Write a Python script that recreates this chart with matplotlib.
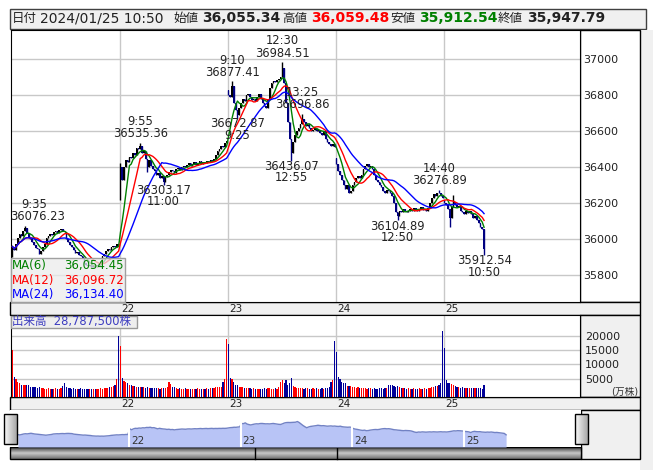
import numpy as np
import pandas as pd
import matplotlib
matplotlib.use('Agg')
import matplotlib.pyplot as plt
from matplotlib.patches import Rectangle
from matplotlib.colors import LinearSegmentedColormap

plt.rcParams['font.family'] = ['DejaVu Sans', 'Noto Sans CJK JP']

W, H = 653, 470

# 5 minute bars, 60 a day (9:00-11:25, 12:30-14:55)
day_labels = ['19', '22', '23', '24', '25']
day_open = [35910, 36220, 36830, 36450, 36220]

close_19 = [35960, 35940, 35975, 36010, 36030, 36020, 36045, 36065, 36035, 36010,
            36000, 35985, 35970, 35950, 35945, 35920, 35935, 35955, 35975, 36010,
            36020, 36030, 36025, 36040, 36045, 36035, 36050, 36055, 36045, 36040,
            36000, 35985, 35970, 35955, 35940, 35925, 35930, 35915, 35905, 35895,
            35870, 35860, 35850, 35855, 35845, 35850, 35845, 35855, 35865, 35880,
            35905, 35920, 35935, 35945, 35940, 35955, 35965, 35960, 35975, 35970]
close_22 = [36400, 36330, 36400, 36440, 36430, 36460, 36450, 36480, 36470, 36505,
            36500, 36520, 36480, 36490, 36445, 36400, 36440, 36410, 36390, 36380,
            36355, 36370, 36340, 36350, 36320, 36345, 36360, 36375, 36385, 36380,
            36370, 36390, 36395, 36385, 36400, 36410, 36400, 36415, 36425, 36410,
            36420, 36430, 36415, 36425, 36435, 36420, 36430, 36425, 36435, 36430,
            36440, 36435, 36445, 36470, 36490, 36500, 36520, 36515, 36535, 36545]
close_23 = [36800, 36790, 36850, 36760, 36720, 36690, 36730, 36760, 36780, 36770,
            36800, 36805, 36790, 36775, 36780, 36770, 36790, 36805, 36780, 36760,
            36740, 36730, 36780, 36840, 36870, 36880, 36875, 36885, 36890, 36900,
            36950, 36870, 36760, 36650, 36560, 36480, 36540, 36580, 36600, 36620,
            36640, 36670, 36650, 36630, 36640, 36620, 36600, 36610, 36620, 36600,
            36610, 36590, 36580, 36600, 36560, 36540, 36530, 36520, 36530, 36515]
close_24 = [36420, 36380, 36360, 36330, 36300, 36280, 36300, 36260, 36270, 36300,
            36320, 36340, 36350, 36340, 36360, 36390, 36410, 36420, 36400, 36410,
            36390, 36360, 36330, 36320, 36300, 36290, 36270, 36260, 36275, 36270,
            36260, 36240, 36200, 36150, 36130, 36160, 36150, 36170, 36160, 36150,
            36160, 36170, 36160, 36175, 36165, 36160, 36170, 36180, 36165, 36170,
            36160, 36175, 36200, 36230, 36250, 36240, 36260, 36255, 36240, 36230]
close_25 = [36200, 36190, 36170, 36120, 36180, 36210, 36190, 36180, 36185, 36160,
            36150, 36140, 36155, 36145, 36160, 36140, 36120, 36130, 36110, 36090,
            36070, 36055.34, 35947.79]

# volume in 10,000 shares
vol_19 = [15000, 5600, 4700, 3800, 3500, 2900, 2900, 2900, 2800, 2600,
          2100, 2000, 2100, 1900, 1800, 1900, 1700, 1600, 1500, 1500,
          1600, 1400, 1500, 1500, 1600, 1400, 1500, 1700, 2300, 3400,
          2200, 1800, 1600, 1500, 1700, 1400, 1500, 1400, 1600, 1300,
          1400, 1500, 1300, 1400, 1500, 1300, 1400, 1500, 1400, 1600,
          1500, 1700, 1600, 1800, 1900, 2100, 2400, 2900, 4800, 20100]
vol_22 = [16500, 5250, 4200, 3800, 3500, 2700, 2600, 2400, 2300, 2200,
          2100, 2000, 2100, 1900, 1800, 2000, 1800, 1700, 1800, 1600,
          1700, 1600, 1500, 1600, 1800, 1700, 1900, 3800, 3100, 2000,
          1900, 1600, 1500, 1700, 1500, 1400, 1600, 1500, 1400, 1500,
          1300, 1500, 1400, 1600, 1400, 1500, 1300, 1400, 1600, 1500,
          1700, 1600, 1800, 1900, 2100, 2000, 2200, 3800, 4700, 19000]
vol_23 = [17200, 5250, 4900, 3800, 2900, 2700, 2100, 1900, 2000, 1800,
          1700, 1600, 1800, 1500, 1600, 1400, 1500, 1300, 1500, 1400,
          1600, 1500, 1700, 1600, 1500, 1400, 1600, 1500, 1900, 3800,
          4400, 3500, 4400, 2600, 3500, 5250, 2400, 2000, 1800, 1700,
          1600, 1800, 1500, 1700, 1600, 1500, 1400, 1600, 1500, 1700,
          1500, 1400, 1600, 1500, 1700, 1800, 2100, 3800, 4400, 18250]
vol_24 = [14470, 5600, 5000, 3800, 3500, 3500, 2400, 2400, 2300, 2200,
          1900, 1800, 2000, 1700, 1800, 1600, 1700, 1500, 1600, 1700,
          1500, 1600, 1400, 1500, 1700, 1600, 1500, 1600, 1800, 2900,
          2600, 2800, 2500, 2000, 2300, 1900, 1800, 1700, 1600, 1500,
          1600, 1400, 1500, 1600, 1400, 1500, 1600, 1500, 1400, 1600,
          1500, 1700, 1800, 2000, 2200, 2300, 2500, 2900, 3300, 21900]
vol_25 = [15900, 4660, 3300, 3300, 3000, 2700, 2300, 2000, 1900, 1800,
          1900, 1700, 1800, 1600, 1700, 1700, 1600, 1700, 1600, 1700,
          1600, 1500, 2879]

# wicks that reach past the body (bar index -> price)
wick_high = {7: 36076.23, 60: 36425, 71: 36535.36, 122: 36877.41, 150: 36984.51,
             161: 36696.86, 237: 36276.89, 245: 36246, 262: 36059.48}
wick_low = {0: 35904, 75: 36375, 84: 36303.17, 125: 36672.87, 155: 36436.07,
            214: 36104.89, 243: 36070, 262: 35912.54}

# swing labels: bar index, price, time, high/low
swings = [(7, 36076.23, '9:35', 'H'), (71, 36535.36, '9:55', 'H'),
          (84, 36303.17, '11:00', 'L'), (122, 36877.41, '9:10', 'H'),
          (125, 36672.87, '9:25', 'L'), (150, 36984.51, '12:30', 'H'),
          (155, 36436.07, '12:55', 'L'), (161, 36696.86, '13:25', 'H'),
          (214, 36104.89, '12:50', 'L'), (237, 36276.89, '14:40', 'H'),
          (262, 35912.54, '10:50', 'L')]

header_date = '2024/01/25 10:50'
header_items = [('始値', '36,055.34', '#222222'), ('高値', '36,059.48', '#ff0000'),
                ('安値', '35,912.54', '#008000'), ('終値', '35,947.79', '#222222')]
ma_periods = [6, 12, 24]
ma_colors = ['#008000', '#ff0000', '#0000ff']
ma_values = ['36,054.45', '36,096.72', '36,134.40']
vol_title = '出来高  28,787,500株'
price_ticks = [35800, 36000, 36200, 36400, 36600, 36800, 37000]
vol_ticks = [5000, 10000, 15000, 20000]

# ---- build bars ----
closes_by_day = [close_19, close_22, close_23, close_24, close_25]
closes, opens = [], []
for d, cl in enumerate(closes_by_day):
    for j, c in enumerate(cl):
        opens.append(day_open[d] if j == 0 else cl[j - 1])
        closes.append(c)
closes = np.array(closes, dtype=float)
opens = np.array(opens, dtype=float)
vols = np.array(vol_19 + vol_22 + vol_23 + vol_24 + vol_25, dtype=float)
idx = np.arange(len(closes))
highs = np.maximum(opens, closes)
lows = np.minimum(opens, closes)
for k, v in wick_high.items():
    highs[k] = v
for k, v in wick_low.items():
    lows[k] = v
up = closes >= opens

fig = plt.figure(figsize=(W / 100, H / 100), dpi=100)
fig.patch.set_facecolor('white')


def px_axes(x0, y0, x1, y1, z=5):
    return fig.add_axes([x0 / W, 1 - y1 / H, (x1 - x0) / W, (y1 - y0) / H], zorder=z)


bg = fig.add_axes([0, 0, 1, 1], zorder=0)
bg.set_xlim(0, W)
bg.set_ylim(H, 0)
bg.axis('off')

# header
bg.add_patch(Rectangle((9.5, 8.5), 636, 20, fc='#f0f0f0', ec='#404040', lw=1))
bg.text(12, 18.5, '日付', fontsize=9, va='center', color='#222222')
bg.text(40, 18.5, header_date, fontsize=10, va='center', color='#222222')
hx = [173, 282, 390, 498]
for (lab, val, col), x in zip(header_items, hx):
    bg.text(x, 18.5, lab, fontsize=9, va='center', color='#222222')
    bg.text(x + 29, 18.5, val, fontsize=10, fontweight='bold', va='center', color=col)

# frames and grey strips
bg.add_patch(Rectangle((640, 30), 13, 440, fc='#f0f0f0', ec='none'))
bg.add_patch(Rectangle((580, 30), 60, 272, fc='white', ec='black', lw=1))
bg.add_patch(Rectangle((10, 302), 630, 13, fc='#f0f0f0', ec='black', lw=1))
bg.add_patch(Rectangle((580, 315), 60, 82, fc='#f0f0f0', ec='black', lw=1))
bg.add_patch(Rectangle((10, 397), 630, 13, fc='#f0f0f0', ec='black', lw=1))
bg.add_patch(Rectangle((581, 410), 59, 49, fc='#f0f0f0', ec='black', lw=1))

# scrollbar
sb_cmap = LinearSegmentedColormap.from_list('sb', ['#3a3a3a', '#c8c8c8', '#707070'])
bg.imshow(np.linspace(0, 1, 40).reshape(-1, 1), extent=(10, 581, 459, 447),
          cmap=sb_cmap, aspect='auto', zorder=2)
bg.add_patch(Rectangle((10, 447), 571, 12, fc='none', ec='black', lw=1, zorder=3))
for x in [255, 337]:
    bg.plot([x, x], [447, 459], color='black', lw=1, zorder=3)
bg.set_xlim(0, W)
bg.set_ylim(H, 0)

XL = (-0.95, 315.3)

# ---- price panel ----
ax = px_axes(10.7, 30, 580, 302)
ax.set_facecolor('white')
ax.set_xlim(*XL)
ax.set_ylim(35652, 37163)
ax.set_yticks(price_ticks)
ax.set_yticklabels([str(t) for t in price_ticks])
ax.yaxis.tick_right()
ax.tick_params(axis='y', length=0, pad=2.5, labelsize=8, labelcolor='#222222')
ax.set_xticks([])
ax.grid(axis='y', color='#c8c8c8', lw=1)
for k in range(1, 5):
    ax.axvline(60 * k - 0.5, color='#c8c8c8', lw=1, zorder=0)
for s in ax.spines.values():
    s.set_color('black')

ccol = np.where(up, '#000000', '#000080')
ax.vlines(idx, lows, highs, colors=ccol, lw=1, zorder=3)
ax.bar(idx, np.maximum(np.abs(closes - opens), 5), bottom=np.minimum(opens, closes),
       width=0.95, color=ccol, zorder=3)

cs = pd.Series(closes)
for n, col in zip(ma_periods, ma_colors):
    ax.plot(idx, cs.rolling(n, min_periods=1).mean(), color=col, lw=1, zorder=4)

for b, p, t, kind in swings:
    txt = f'{p:.2f}'
    if b < 15:
        ax.annotate(txt, (XL[0], p), xytext=(-0.7, 6.5), textcoords='offset points',
                    ha='left', va='center', fontsize=8.3, color='#222222', zorder=6)
        ax.annotate(t, (XL[0], p), xytext=(17, 15.3), textcoords='offset points',
                    ha='center', va='center', fontsize=8.3, color='#222222', zorder=6)
    elif kind == 'H':
        ax.annotate(txt, (b, p), xytext=(0, 6.5), textcoords='offset points',
                    ha='center', va='center', fontsize=8.3, color='#222222', zorder=6)
        ax.annotate(t, (b, p), xytext=(0, 15.3), textcoords='offset points',
                    ha='center', va='center', fontsize=8.3, color='#222222', zorder=6)
    else:
        ax.annotate(txt, (b, p), xytext=(0, -4), textcoords='offset points',
                    ha='center', va='center', fontsize=8.3, color='#222222', zorder=6)
        ax.annotate(t, (b, p), xytext=(0, -12.3), textcoords='offset points',
                    ha='center', va='center', fontsize=8.3, color='#222222', zorder=6)

# ---- volume panel ----
av = px_axes(10.7, 315, 580, 397)
av.set_facecolor('white')
av.set_xlim(*XL)
av.set_ylim(-1500, 27500)
av.set_yticks(vol_ticks)
av.set_yticklabels([str(t) for t in vol_ticks])
av.yaxis.tick_right()
av.tick_params(axis='y', length=0, pad=3.5, labelsize=8, labelcolor='#222222')
av.set_xticks([])
av.grid(axis='y', color='#c8c8c8', lw=1)
for k in range(1, 5):
    av.axvline(60 * k - 0.5, color='#c8c8c8', lw=1, zorder=0)
av.bar(idx, vols + 1500, bottom=-1500, width=0.72,
       color=np.where(up, '#ff0000', '#000099'), zorder=3)
for s in av.spines.values():
    s.set_color('black')

# date labels under both panels
for k in range(1, 5):
    for a in (ax, av):
        a.annotate(day_labels[k], (60 * k - 0.5, 0), xycoords=('data', 'axes fraction'),
                   xytext=(1.5, -4.8), textcoords='offset points', ha='left',
                   va='center', fontsize=7.5, color='#222222', annotation_clip=False)

# ---- navigator ----
an = px_axes(10, 410, 581, 447)
an.set_facecolor('white')
an.set_xlim(-4.26, 302.2)
an.set_ylim(35030, 37820)
an.fill_between(idx, closes, 35030, color='#b8c4f6', lw=0)
an.plot(idx, closes, color='#7282c4', lw=1)
for k in range(1, 5):
    an.axvline(60 * k - 0.5, color='white', lw=1.5)
    an.annotate(day_labels[k], (60 * k - 0.5, 0), xycoords=('data', 'axes fraction'),
                xytext=(1.5, 4.5), textcoords='offset points', ha='left', va='center',
                fontsize=7.5, color='#333333')
an.set_xticks([])
an.set_yticks([])
for s in an.spines.values():
    s.set_visible(False)

# ---- overlay: legend box, volume title, handles ----
ov = fig.add_axes([0, 0, 1, 1], zorder=10)
ov.set_xlim(0, W)
ov.set_ylim(H, 0)
ov.axis('off')
ov.patch.set_alpha(0)

ov.add_patch(Rectangle((10.5, 258), 114.5, 43.5, fc=(0.92, 0.92, 0.92, 0.75),
                       ec='#a0a0a0', lw=1))
for i, (n, col, val) in enumerate(zip(ma_periods, ma_colors, ma_values)):
    y = 266 + i * 14.2
    ov.text(12, y, f'MA({n})', color=col, fontsize=8.5, va='center', ha='left')
    ov.text(124, y, val, color=col, fontsize=8.5, va='center', ha='right')

ov.add_patch(Rectangle((10.5, 315.5), 126.5, 12, fc='#eeeeee', ec='#999999', lw=1))
ov.text(12, 321.5, vol_title, color='#3c3cc0', fontsize=8.3, va='center', ha='left')
ov.text(638, 392, '(万株)', color='#333333', fontsize=7, va='center', ha='right')

hcmap = LinearSegmentedColormap.from_list('hd', ['#fafafa', '#a8a8a8'])
for hx0 in [4, 575]:
    ov.imshow(np.linspace(0, 1, 20).reshape(1, -1), extent=(hx0, hx0 + 13, 444, 414),
              cmap=hcmap, aspect='auto', zorder=2)
    ov.add_patch(Rectangle((hx0, 414), 13, 30, fc='none', ec='black', lw=1, zorder=3))
ov.set_xlim(0, W)
ov.set_ylim(H, 0)

fig.savefig('out.png', dpi=100)
